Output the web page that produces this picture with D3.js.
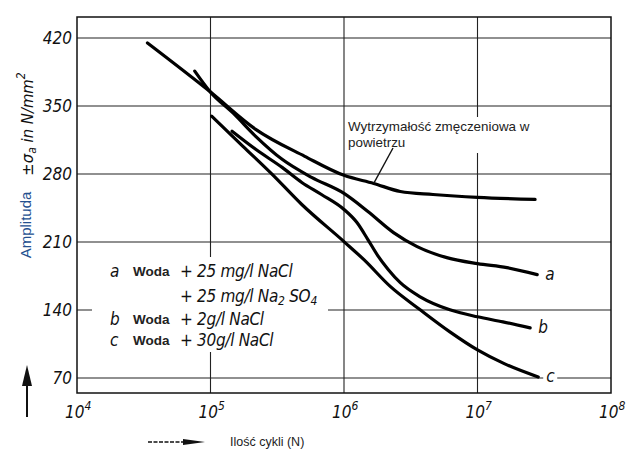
<!DOCTYPE html>
<html><head><meta charset="utf-8">
<script src="https://cdn.jsdelivr.net/npm/d3@7"></script>
<style>body{margin:0;background:#fff}</style>
</head><body><svg id="c" width="629" height="449" xmlns="http://www.w3.org/2000/svg"></svg>
<script>
// ---- data ----
const yTicks = [70, 140, 210, 280, 350, 420];
const xTicks = [1e4, 1e5, 1e6, 1e7, 1e8];
const xExp = ["4", "5", "6", "7", "8"];

// fatigue strength in air
const airN = [3.37e4, 1e5, 2.18e5, 5.08e5, 1e6, 1.67e6, 2.64e6, 4.64e6, 1e7, 2.7e7];
const airS = [414.8, 364.3, 326.0, 298.2, 278.6, 270.3, 262.0, 258.9, 255.9, 253.8];
// a: water + 25 mg/l NaCl + 25 mg/l Na2SO4
const aN = [7.62e4, 1e5, 1.48e5, 2.18e5, 3.44e5, 5.72e5, 1e6, 1.51e6, 2.35e6, 3.53e6, 5.89e6, 1e7, 1.66e7, 2.8e7];
const aS = [385.9, 364.3, 342.6, 318.8, 295.1, 276.5, 260.0, 241.4, 219.7, 205.3, 193.9, 187.7, 183.6, 176.4];
// b: water + 2 g/l NaCl
const bN = [1.45e5, 2.18e5, 3.44e5, 4.83e5, 6.78e5, 1e6, 1.25e6, 1.51e6, 1.79e6, 2.15e6, 2.64e6, 3.72e6, 6.21e6, 1e7, 1.55e7, 2.48e7];
const bS = [324.0, 305.4, 286.8, 271.3, 258.9, 243.5, 230.0, 212.5, 196.0, 181.5, 168.1, 153.6, 140.2, 133.0, 127.8, 121.6];
// c: water + 30 g/l NaCl
const cN = [1.02e5, 1.75e5, 2.9e5, 4.83e5, 1e6, 1.41e6, 2.23e6, 3.72e6, 6.21e6, 1e7, 1.6e7, 2.85e7];
const cS = [339.5, 308.5, 279.6, 248.6, 210.4, 191.8, 164.0, 140.2, 117.5, 98.9, 84.5, 71.0];

const legendKeys = ["a", "", "b", "c"];
const legendSolvent = ["Woda", "", "Woda", "Woda"];
const legendAdd = [
  [["+ 25 mg/l NaCl", 0]],
  [["+ 25 mg/l Na", 0], ["2", 1], [" SO", 0], ["4", 1]],
  [["+ 2g/l NaCl", 0]],
  [["+ 30g/l NaCl", 0]]
];
const annotationLines = ["Wytrzymałość zmęczeniowa w", "powietrzu"];
const yTitleA = "Amplituda";
const xTitle = "Ilość cykli (N)";

// ---- layout ----
const L = 77, R = 611, T = 17, B = 393;
const svg = d3.select("#c");
svg.append("rect").attr("width", 629).attr("height", 449).attr("fill", "#fff");

const x = d3.scaleLog().domain([1e4, 1e8]).range([L, R]);
const y = d3.scaleLinear().domain([70, 420]).range([378, 38]);

const techFont = "'DejaVu Sans Condensed','Liberation Sans Narrow','DejaVu Sans',sans-serif";
const ink = "#111";

// grid
const grid = svg.append("g").attr("stroke", "#222").attr("stroke-width", 1.1);
grid.selectAll("line.h").data(yTicks).join("line")
  .attr("x1", L).attr("x2", R).attr("y1", d => y(d)).attr("y2", d => y(d));
grid.selectAll("line.v").data(xTicks.slice(1, -1)).join("line")
  .attr("x1", d => x(d)).attr("x2", d => x(d)).attr("y1", T).attr("y2", B);

// white boxes behind legend and annotation
svg.append("rect").attr("x", 92).attr("y", 257).attr("width", 236).attr("height", 95).attr("fill", "#fff");
svg.append("rect").attr("x", 345).attr("y", 117).attr("width", 195).attr("height", 36).attr("fill", "#fff");

// frame
svg.append("rect").attr("x", L).attr("y", T).attr("width", R - L).attr("height", B - T)
  .attr("fill", "none").attr("stroke", ink).attr("stroke-width", 1.5);

// y tick labels
svg.append("g").selectAll("text").data(yTicks).join("text")
  .attr("x", 72).attr("y", d => y(d)).attr("dy", "0.36em")
  .attr("text-anchor", "end").attr("font-family", techFont).attr("font-style", "italic")
  .attr("font-size", 17).attr("fill", ink).text(d => d);

// x tick labels
const xl = svg.append("g").selectAll("text").data(xTicks).join("text")
  .attr("x", d => x(d) - 12).attr("y", 418)
  .attr("font-family", techFont).attr("font-style", "italic").attr("font-size", 17).attr("fill", ink);
xl.append("tspan").text("10");
xl.append("tspan").attr("dy", -8).attr("font-size", 12).text((d, i) => xExp[i]);

// curves
const line = d3.line().x(d => x(d[0])).y(d => y(d[1])).curve(d3.curveMonotoneX);
const zip = (N, S) => N.map((n, i) => [n, S[i]]);
const curves = [zip(airN, airS), zip(aN, aS), zip(bN, bS), zip(cN, cS)];
svg.append("g").selectAll("path").data(curves).join("path")
  .attr("d", line).attr("fill", "none").attr("stroke", "#000")
  .attr("stroke-width", 3.2).attr("stroke-linecap", "round");

// end labels a, b, c
const ends = curves.slice(1).map(c => c[c.length - 1]);
const endNames = ["a", "b", "c"];
svg.append("rect").attr("x", x(ends[2][0]) + 5).attr("y", y(ends[2][1]) - 3)
  .attr("width", 14).attr("height", 6).attr("fill", "#fff");
svg.append("g").selectAll("text").data(ends).join("text")
  .attr("x", d => x(d[0]) + 8).attr("y", d => y(d[1]) + 5)
  .attr("font-family", techFont).attr("font-style", "italic").attr("font-size", 17).attr("fill", ink)
  .text((d, i) => endNames[i]);

// annotation
svg.append("g").selectAll("text").data(annotationLines).join("text")
  .attr("x", 348).attr("y", (d, i) => 131 + i * 16)
  .attr("font-family", "'Liberation Sans',Arial,sans-serif").attr("font-size", 13.4).attr("fill", "#222")
  .text(d => d);
const airPt = [airN[5], airS[5]];
svg.append("line").attr("x1", 393).attr("y1", 148).attr("x2", x(airPt[0])).attr("y2", y(airPt[1]))
  .attr("stroke", "#111").attr("stroke-width", 1.4);

// legend
const lg = svg.append("g");
const rowY = [277, 302, 325, 346];
legendKeys.forEach((k, i) => {
  if (k) lg.append("text").attr("x", 110).attr("y", rowY[i]).attr("font-family", techFont)
    .attr("font-style", "italic").attr("font-size", 17).attr("fill", ink).text(k);
  if (legendSolvent[i]) lg.append("text").attr("x", 133).attr("y", rowY[i] - 1)
    .attr("font-family", "'Liberation Sans',Arial,sans-serif").attr("font-weight", "bold")
    .attr("font-size", 13.5).attr("fill", "#222").text(legendSolvent[i]);
  const t = lg.append("text").attr("x", 180).attr("y", rowY[i]).attr("font-family", techFont)
    .attr("font-style", "italic").attr("font-size", 17).attr("fill", ink).attr("letter-spacing", -0.3);
  let sub = 0;
  legendAdd[i].forEach(([s, isSub]) => {
    const ts = t.append("tspan").text(s);
    if (isSub && !sub) { ts.attr("dy", 3).attr("font-size", 12); sub = 1; }
    else if (!isSub && sub) { ts.attr("dy", -3); sub = 0; }
    else if (isSub) ts.attr("font-size", 12);
  });
});

// y axis title
svg.append("text").attr("transform", "translate(31,225) rotate(-90)")
  .attr("text-anchor", "middle").attr("font-family", "'Liberation Sans',Arial,sans-serif")
  .attr("font-size", 15).attr("fill", "#24508f").text(yTitleA);
const yt2 = svg.append("text").attr("transform", "translate(33,124) rotate(-90)")
  .attr("text-anchor", "middle").attr("font-family", techFont).attr("font-style", "italic")
  .attr("font-size", 16.5).attr("fill", ink);
yt2.append("tspan").text("±σ");
yt2.append("tspan").attr("dy", 3).attr("font-size", 12).text("a");
yt2.append("tspan").attr("dy", -3).text(" in N/mm");
yt2.append("tspan").attr("dy", -8).attr("font-size", 12).text("2");

// vertical arrow
svg.append("line").attr("x1", 27).attr("x2", 27).attr("y1", 417).attr("y2", 383)
  .attr("stroke", ink).attr("stroke-width", 2);
svg.append("path").attr("d", "M27,365 L22,386 L32,386 Z").attr("fill", ink);

// horizontal arrow with title
svg.append("line").attr("x1", 148).attr("x2", 185).attr("y1", 442).attr("y2", 442)
  .attr("stroke", ink).attr("stroke-width", 1.3).attr("stroke-dasharray", "4,1.5");
svg.append("path").attr("d", "M183,439 L205,442 L183,445 Z").attr("fill", ink);
svg.append("text").attr("x", 230).attr("y", 446)
  .attr("font-family", "'Liberation Sans',Arial,sans-serif").attr("font-size", 12.5).attr("fill", "#222")
  .text(xTitle);
</script></body></html>
